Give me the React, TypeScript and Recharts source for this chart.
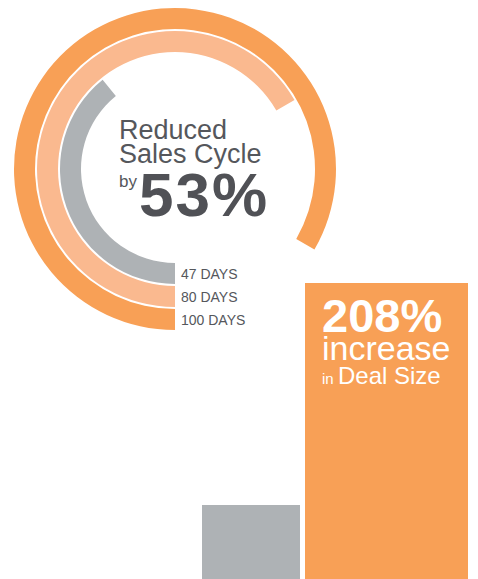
import React from 'react';
import {
  RadialBarChart,
  RadialBar,
  PolarAngleAxis,
  Cell,
  LabelList,
  BarChart,
  Bar,
  XAxis,
  YAxis,
} from 'recharts';

// sales cycle rings, inner to outer
const cycleLabels = ['47 DAYS', '80 DAYS', '100 DAYS'];
const cycleDays = [47, 80, 100];
const cycleColors = ['#AEB2B5', '#FAB98F', '#F8A056'];
const cycleMax = 120;
const cycleReduction = 53;

// deal size bars
const dealCategories = ['Deal Size'];
const dealBefore = [25];
const dealAfter = [100];
const dealIncrease = [208];

const FONT = '"Liberation Sans", Arial, Helvetica, sans-serif';
const TEXT = '#55575C';

const cycleData = cycleDays.map((days, i) => ({
  name: cycleLabels[i],
  days,
  fill: cycleColors[i],
}));

const dealData = dealCategories.map((name, i) => ({
  name,
  before: dealBefore[i],
  after: dealAfter[i],
  increase: dealIncrease[i],
}));

const DayLabel = (props: any) => {
  const vb = props.viewBox || props;
  if (vb.cx == null) return null;
  const r = (vb.innerRadius + vb.outerRadius) / 2;
  return (
    <text x={vb.cx + 6} y={vb.cy + r + 5} fill={TEXT} fontSize={14} fontFamily={FONT}>
      {props.value}
    </text>
  );
};

const IncreaseLabel = (props: any) => {
  const vb = props.viewBox || props;
  const x = vb.x + 17;
  const y = vb.y;
  return (
    <g fill="#FFFFFF" fontFamily={FONT}>
      <text x={x} y={y + 49} fontSize={47} fontWeight="bold">
        {props.value}%
      </text>
      <text x={x} y={y + 77} fontSize={34}>
        increase
      </text>
      <text x={x} y={y + 101} fontSize={15}>
        in
      </text>
      <text x={x + 16} y={y + 101} fontSize={24}>
        Deal Size
      </text>
    </g>
  );
};

export default function App() {
  return (
    <div style={{ position: 'absolute', left: 0, top: 0, width: 478, height: 579, background: '#fff' }}>
      <div style={{ position: 'absolute', left: 0, top: 0 }}>
        <RadialBarChart
          width={350}
          height={340}
          cx={175}
          cy={169}
          innerRadius={93}
          outerRadius={162}
          startAngle={-90}
          endAngle={-450}
          barSize={21}
          data={cycleData}
          margin={{ top: 0, right: 0, bottom: 0, left: 0 }}
        >
          <PolarAngleAxis type="number" domain={[0, cycleMax]} tick={false} axisLine={false} />
          <RadialBar dataKey="days" isAnimationActive={false}>
            {cycleData.map((d) => (
              <Cell key={d.name} fill={d.fill} />
            ))}
            <LabelList dataKey="name" content={DayLabel} />
          </RadialBar>
        </RadialBarChart>
      </div>
      <svg style={{ position: 'absolute', left: 0, top: 0 }} width={300} height={240}>
        <g fontFamily={FONT} fill={TEXT}>
          <text x={119} y={139} fontSize={27}>
            Reduced
          </text>
          <text x={119} y={163} fontSize={27}>
            Sales Cycle
          </text>
          <text x={119} y={187} fontSize={17}>
            by
          </text>
          <text x={139} y={216} fontSize={62} fontWeight="bold" letterSpacing={2} fill="#505156">
            {cycleReduction}%
          </text>
        </g>
      </svg>
      <div style={{ position: 'absolute', left: 0, top: 0 }}>
        <BarChart
          width={478}
          height={579}
          data={dealData}
          barGap={5}
          margin={{ top: 283, right: 8, bottom: 0, left: 200 }}
        >
          <XAxis dataKey="name" hide />
          <YAxis hide domain={[0, 100]} />
          <Bar dataKey="before" fill="#AEB2B5" barSize={98} isAnimationActive={false} />
          <Bar dataKey="after" fill="#F8A056" barSize={163} isAnimationActive={false}>
            <LabelList dataKey="increase" content={IncreaseLabel} />
          </Bar>
        </BarChart>
      </div>
    </div>
  );
}
